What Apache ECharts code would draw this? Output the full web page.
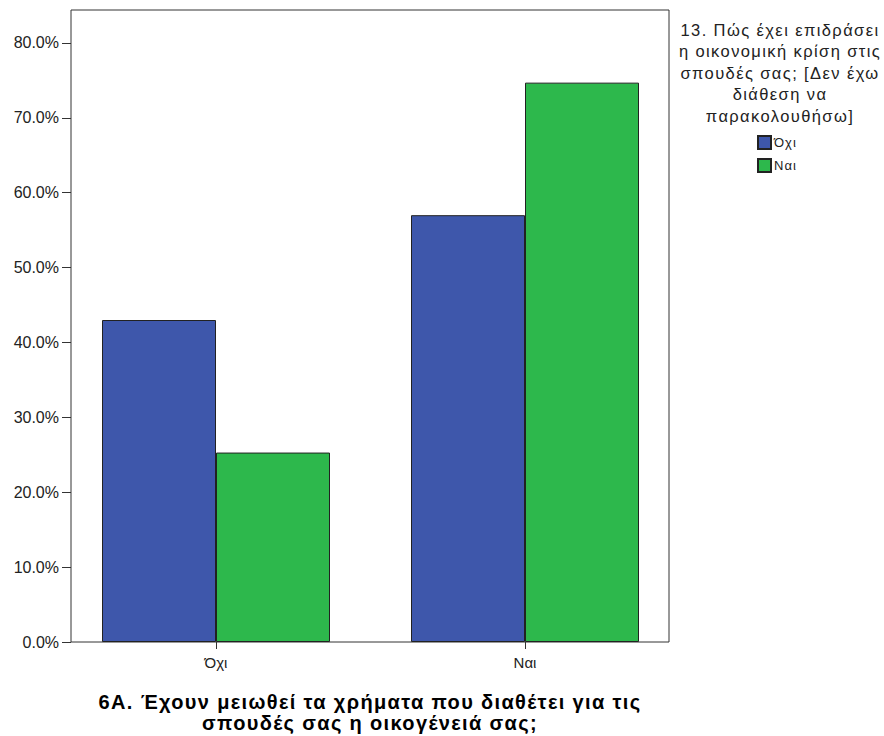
<!DOCTYPE html>
<html>
<head>
<meta charset="utf-8">
<script src="https://cdn.jsdelivr.net/npm/echarts@6/dist/echarts.min.js"></script>
<style>html,body{margin:0;padding:0;background:#fff;overflow:hidden;}#c{width:884px;height:736px;}</style>
</head>
<body>
<div id="c"></div>
<script>
const categories = ['Όχι', 'Ναι'];
const seriesNames = ['Όχι', 'Ναι'];
const valuesOxi = [43.0, 57.0];
const valuesNai = [25.3, 74.7];
const tickValues = [0, 10, 20, 30, 40, 50, 60, 70, 80];
const xTitle = '6Α. Έχουν μειωθεί τα χρήματα που διαθέτει για τις\nσπουδές σας η οικογένειά σας;';
const legendTitle = '13. Πώς έχει επιδράσει\nη οικονομική κρίση στις\nσπουδές σας; [Δεν έχω\nδιάθεση να\nπαρακολουθήσω]';

const yMax = 84.4;
const font = 'Liberation Sans, Arial, sans-serif';
const chart = echarts.init(document.getElementById('c'), null, { renderer: 'svg' });
chart.setOption({
  animation: false,
  backgroundColor: '#fff',
  grid: [
    { left: 61.5, width: 618, top: 10, height: 632, show: false, containLabel: false, outerBoundsMode: 'none' },
    { left: 71, width: 598, top: 10, height: 632, show: true, borderColor: '#333', borderWidth: 1,
      backgroundColor: 'rgba(0,0,0,0)', containLabel: false, outerBoundsMode: 'none' }
  ],
  xAxis: [
    { type: 'category', gridIndex: 0, data: categories,
      axisLine: { show: false },
      axisTick: { show: true, alignWithLabel: true, length: 7, lineStyle: { color: '#333' } },
      axisLabel: { fontFamily: font, fontSize: 15, color: '#222', margin: 13 } },
    { type: 'value', gridIndex: 1, min: 0, max: 1, show: true,
      axisLine: { show: false }, axisTick: { show: false }, axisLabel: { show: false }, splitLine: { show: false },
      name: xTitle, nameLocation: 'middle', nameGap: 49,
      nameTextStyle: { fontFamily: font, fontSize: 20, fontWeight: 'bold', color: '#000', lineHeight: 21 } }
  ],
  yAxis: [
    { type: 'value', gridIndex: 0, min: 0, max: yMax, show: false },
    { type: 'value', gridIndex: 1, min: 0, max: yMax,
      axisLine: { show: false },
      splitLine: { show: false },
      axisTick: { show: true, length: 9, customValues: tickValues, lineStyle: { color: '#333' } },
      axisLabel: { customValues: tickValues, fontFamily: font, fontSize: 16, color: '#222', margin: 12,
        formatter: v => v.toFixed(1) + '%' } }
  ],
  legend: {
    orient: 'vertical', left: 757, top: 135, padding: 0, itemWidth: 13, itemHeight: 13, itemGap: 8,
    icon: 'rect', data: seriesNames,
    textStyle: { fontFamily: font, fontSize: 13, color: '#222', padding: [0, 0, 0, -2] }
  },
  graphic: [{
    type: 'text', x: 780, y: 19,
    style: { text: legendTitle, textAlign: 'center', fontFamily: font, fontSize: 16.5, lineHeight: 21.5, fill: '#222' }
  }],
  series: [
    { name: seriesNames[0], type: 'bar', xAxisIndex: 0, yAxisIndex: 0, data: valuesOxi,
      barWidth: 114, barGap: '0%',
      itemStyle: { color: '#3e57ab', borderColor: '#222', borderWidth: 1 } },
    { name: seriesNames[1], type: 'bar', xAxisIndex: 0, yAxisIndex: 0, data: valuesNai,
      barWidth: 114, barGap: '0%',
      itemStyle: { color: '#2db84c', borderColor: '#222', borderWidth: 1 } }
  ]
});
chart.getZr().flush();
const spacingBySize = { '16.5px': '1.4px', '20px': '1.35px', '13px': '1px' };
document.querySelectorAll('#c svg text').forEach(t => {
  const fs = getComputedStyle(t).fontSize;
  if (spacingBySize[fs]) t.style.letterSpacing = spacingBySize[fs];
});
</script>
</body>
</html>
